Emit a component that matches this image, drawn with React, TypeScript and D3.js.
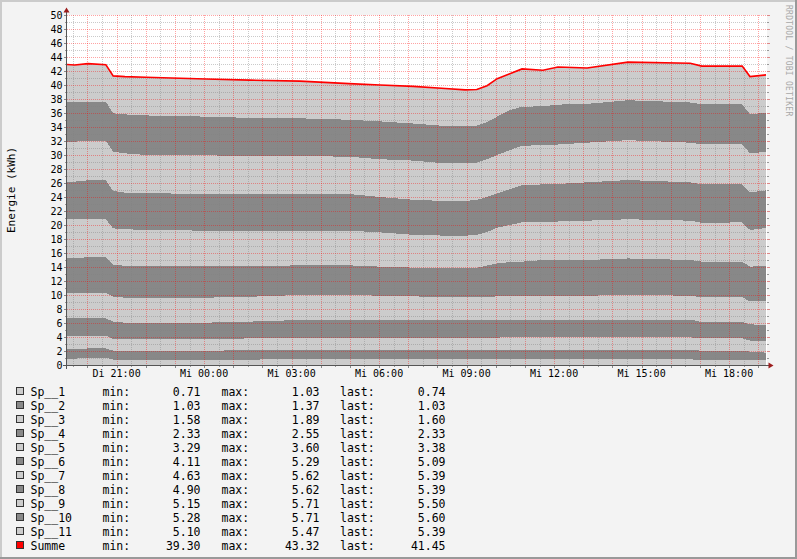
import * as d3 from 'd3'

// sample times (Di = Tuesday, Mi = Wednesday)
const timeLabels = [
  'Di 19:18', 'Di 19:34', 'Di 20:01', 'Di 20:38', 'Di 20:53', 'Di 21:17', 'Di 22:00', 'Mi 00:04',
  'Mi 01:34', 'Mi 03:17', 'Mi 04:58', 'Mi 06:02', 'Mi 07:10', 'Mi 08:16', 'Mi 08:57', 'Mi 09:21',
  'Mi 09:42', 'Mi 10:03', 'Mi 10:29', 'Mi 10:54', 'Mi 11:37', 'Mi 12:08', 'Mi 13:08', 'Mi 14:32',
  'Mi 16:40', 'Mi 17:04', 'Mi 18:27', 'Mi 18:43', 'Mi 19:16',
]

const sp1 = [0.90, 0.90, 1.03, 1.03, 0.78, 0.78, 0.78, 0.78, 0.78, 0.80, 0.80, 0.80, 0.81, 0.81, 0.81, 0.81, 0.81, 0.81, 0.81, 0.81, 0.81, 0.81, 0.81, 0.81, 0.81, 0.71, 0.71, 0.71, 0.74]
const sp2 = [1.37, 1.37, 1.33, 1.33, 1.27, 1.27, 1.27, 1.27, 1.32, 1.34, 1.34, 1.34, 1.33, 1.33, 1.33, 1.33, 1.33, 1.33, 1.33, 1.33, 1.33, 1.33, 1.33, 1.33, 1.33, 1.34, 1.34, 1.19, 1.03]
const sp3 = [1.89, 1.89, 1.83, 1.83, 1.66, 1.62, 1.62, 1.62, 1.70, 1.76, 1.76, 1.76, 1.76, 1.76, 1.76, 1.76, 1.76, 1.78, 1.81, 1.81, 1.81, 1.81, 1.81, 1.81, 1.81, 1.75, 1.75, 1.58, 1.60]
const sp4 = [2.51, 2.51, 2.48, 2.48, 2.48, 2.38, 2.38, 2.38, 2.40, 2.53, 2.53, 2.53, 2.53, 2.53, 2.53, 2.53, 2.53, 2.53, 2.55, 2.55, 2.55, 2.55, 2.55, 2.55, 2.55, 2.33, 2.33, 2.33, 2.33]
const sp5 = [3.60, 3.60, 3.60, 3.60, 3.57, 3.57, 3.57, 3.57, 3.55, 3.57, 3.57, 3.47, 3.37, 3.29, 3.29, 3.29, 3.29, 3.35, 3.40, 3.40, 3.40, 3.40, 3.40, 3.50, 3.40, 3.54, 3.54, 3.29, 3.38]
const sp6 = [5.02, 5.02, 5.11, 5.11, 4.53, 4.57, 4.57, 4.57, 4.35, 4.24, 4.24, 4.15, 4.11, 4.11, 4.11, 4.18, 4.48, 4.72, 4.80, 4.86, 5.10, 5.10, 5.10, 5.22, 5.10, 5.09, 5.09, 4.95, 5.09]
const sp7 = [5.52, 5.52, 5.43, 5.43, 5.23, 5.21, 5.10, 5.00, 5.09, 4.95, 4.95, 4.90, 4.69, 4.65, 4.63, 4.70, 4.80, 5.10, 5.30, 5.62, 5.48, 5.50, 5.62, 5.60, 5.62, 5.54, 5.62, 5.24, 5.39]
const sp8 = [5.38, 5.38, 5.57, 5.57, 5.34, 5.22, 5.26, 5.24, 5.24, 5.24, 5.24, 5.05, 5.00, 4.95, 4.97, 5.00, 5.00, 4.90, 5.10, 5.32, 5.32, 5.36, 5.48, 5.60, 5.48, 5.51, 5.43, 5.38, 5.39]
const sp9 = [5.71, 5.71, 5.67, 5.67, 5.62, 5.62, 5.45, 5.52, 5.43, 5.43, 5.32, 5.40, 5.60, 5.38, 5.38, 5.30, 5.40, 5.48, 5.60, 5.60, 5.63, 5.64, 5.66, 5.70, 5.66, 5.71, 5.71, 5.57, 5.50]
const sp10 = [5.62, 5.62, 5.55, 5.55, 5.47, 5.56, 5.65, 5.53, 5.44, 5.38, 5.29, 5.40, 5.30, 5.33, 5.28, 5.28, 5.28, 5.48, 5.70, 5.60, 5.52, 5.70, 5.54, 5.70, 5.74, 5.72, 5.72, 5.56, 5.60]
const sp11 = [5.41, 5.34, 5.45, 5.30, 5.35, 5.40, 5.45, 5.37, 5.40, 5.31, 5.16, 5.20, 5.30, 5.36, 5.21, 5.17, 5.22, 5.42, 5.20, 5.40, 5.15, 5.37, 5.13, 5.45, 5.60, 5.46, 5.46, 5.40, 5.39]

const series = [sp1, sp2, sp3, sp4, sp5, sp6, sp7, sp8, sp9, sp10, sp11]
const seriesNames = ['Sp__1', 'Sp__2', 'Sp__3', 'Sp__4', 'Sp__5', 'Sp__6', 'Sp__7', 'Sp__8', 'Sp__9', 'Sp__10', 'Sp__11']

// legend statistics as printed
const legendNames = [...seriesNames, 'Summe']
const legendMin = ['0.71', '1.03', '1.58', '2.33', '3.29', '4.11', '4.63', '4.90', '5.15', '5.28', '5.10', '39.30']
const legendMax = ['1.03', '1.37', '1.89', '2.55', '3.60', '5.29', '5.62', '5.62', '5.71', '5.71', '5.47', '43.32']
const legendLast = ['0.74', '1.03', '1.60', '2.33', '3.38', '5.09', '5.39', '5.39', '5.50', '5.60', '5.39', '41.45']

const dayNames = ['So', 'Mo', 'Di', 'Mi', 'Do', 'Fr', 'Sa']

const W = 797, H = 559
const X0 = 67, X1 = 767, Y0 = 365, Y1 = 15
const LIGHT = '#CCCCCC', DARK = '#888888'
const FONT = "'DejaVu Sans Mono', monospace"

function parseTime(s: string) {
  const [day, hm] = s.split(' ')
  const [h, m] = hm.split(':').map(Number)
  return new Date(2012, 9, day === 'Di' ? 16 : 17, h, m)
}

const start = new Date(2012, 9, 16, 19, 18)
const end = new Date(2012, 9, 17, 19, 18)

export default function App() {
  const x = d3.scaleTime([start, end], [X0, X1])
  const y = d3.scaleLinear([0, 50], [Y0, Y1])

  const keys = seriesNames
  const rows = timeLabels.map((t, i) => {
    const r: any = { time: parseTime(t) }
    keys.forEach((k, j) => { r[k] = series[j][i] })
    return r
  })
  const stacked = d3.stack<any>().keys(keys)(rows)

  const area = d3.area<any>()
    .x(d => x(d.data.time))
    .y0(d => y(d[0]))
    .y1(d => y(d[1]))
  const topLine = d3.line<any>()
    .x(d => x(d.data.time))
    .y(d => y(d[1]))

  const minorX = d3.timeMinute.every(30)!.range(start, end).filter(d => d.getMinutes() !== 0)
  const majorX = d3.timeHour.range(start, end)
  const labelX = d3.timeHour.every(3)!.range(start, end)
  const minorY = d3.range(1, 50, 2)
  const majorY = d3.range(0, 51, 2)

  const fmt = d3.timeFormat('%H:%M')
  const px = (t: Date) => Math.round(x(t)) + 0.5
  const py = (v: number) => Math.round(y(v)) + 0.5

  const minorCol = 'rgba(128,128,128,0.42)'
  const majorCol = 'rgba(255,0,0,0.36)'

  return (
    <div style={{ position: 'absolute', left: 0, top: 0 }}>
      <svg width={W} height={H} style={{ display: 'block', fontFamily: FONT }}>
        <rect x={0} y={0} width={W} height={H} fill="#F3F3F3" />
        <rect x={0} y={0} width={W} height={2} fill="#CBCBCB" />
        <rect x={0} y={0} width={2} height={H} fill="#CBCBCB" />
        <rect x={0} y={H - 2} width={W} height={2} fill="#999999" />
        <rect x={W - 2} y={0} width={2} height={H} fill="#999999" />

        <rect x={X0} y={Y1} width={X1 - X0} height={Y0 - Y1} fill="#FFFFFF" />

        {stacked.map((s, i) => (
          <path key={s.key} d={area(s) || ''} fill={i % 2 === 0 ? LIGHT : DARK} shapeRendering="crispEdges" />
        ))}

        {/* minor grid */}
        {minorY.map(v => (
          <g key={'my' + v}>
            <line x1={X0} x2={X1} y1={py(v)} y2={py(v)} stroke={minorCol} strokeDasharray="1,1" />
            <line x1={X0 - 2} x2={X0} y1={py(v)} y2={py(v)} stroke="#999" />
            <line x1={X1} x2={X1 + 2} y1={py(v)} y2={py(v)} stroke="#999" />
          </g>
        ))}
        {minorX.map(t => (
          <g key={'mx' + +t}>
            <line x1={px(t)} x2={px(t)} y1={Y1} y2={Y0} stroke={minorCol} strokeDasharray="1,1" />
            <line x1={px(t)} x2={px(t)} y1={Y0} y2={Y0 + 2} stroke="#999" />
          </g>
        ))}
        {/* major grid */}
        {majorY.map(v => (
          <g key={'My' + v}>
            <line x1={X0} x2={X1} y1={py(v)} y2={py(v)} stroke={majorCol} strokeDasharray="1,1" />
            <line x1={X0 - 3} x2={X0} y1={py(v)} y2={py(v)} stroke="#888" />
            <line x1={X1} x2={X1 + 3} y1={py(v)} y2={py(v)} stroke="#d88" />
          </g>
        ))}
        {majorX.map(t => (
          <g key={'Mx' + +t}>
            <line x1={px(t)} x2={px(t)} y1={Y1} y2={Y0} stroke={majorCol} strokeDasharray="1,1" />
            <line x1={px(t)} x2={px(t)} y1={Y0} y2={Y0 + 3} stroke="#888" />
          </g>
        ))}

        <path d={topLine(stacked[stacked.length - 1]) || ''} fill="none" stroke="#FF0000" strokeWidth={1.6} />

        {/* axes */}
        <line x1={X0 - 4} x2={X1 + 3} y1={Y0 + 0.5} y2={Y0 + 0.5} stroke="#555" />
        <line x1={X0 - 0.5} x2={X0 - 0.5} y1={Y0 + 4} y2={Y1 - 3} stroke="#555" />
        <polygon points={`${X1 + 1.5},${Y0 - 2.5} ${X1 + 1.5},${Y0 + 3.5} ${X1 + 6.5},${Y0 + 0.5}`} fill="#9C1C1C" />
        <polygon points={`${X0 - 3.5},${Y1 - 2.5} ${X0 + 2.5},${Y1 - 2.5} ${X0 - 0.5},${Y1 - 7.5}`} fill="#9C1C1C" />

        {/* tick labels */}
        {majorY.map(v => (
          <text key={'ly' + v} x={62.5} y={y(v) + 3.6} fontSize={10} textAnchor="end" fill="#000">{v}</text>
        ))}
        {labelX.map(t => (
          <text key={'lx' + +t} x={x(t)} y={377} fontSize={10} textAnchor="middle" fill="#000">
            {`${dayNames[t.getDay()]} ${fmt(t)}`}
          </text>
        ))}

        <text transform="translate(14.5,190) rotate(-90)" fontSize={11} textAnchor="middle" fill="#000">Energie (kWh)</text>
        <text transform="translate(786,5) rotate(90)" fontSize={8} letterSpacing={0.25} fill="#A8A8A8">RRDTOOL / TOBI OETIKER</text>

        {/* legend */}
        {legendNames.map((name, i) => {
          const by = 395.5 + i * 14
          const fill = i === legendNames.length - 1 ? '#FF0000' : i % 2 === 0 ? LIGHT : DARK
          return (
            <g key={name} fontSize={11.5} fill="#000">
              <rect x={16} y={by - 8} width={7} height={7} fill={fill} stroke="#333" strokeWidth={1} shapeRendering="crispEdges" />
              <text x={30.5} y={by}>{name}</text>
              <text x={102.5} y={by}>min:</text>
              <text x={200.5} y={by} textAnchor="end">{legendMin[i]}</text>
              <text x={221.5} y={by}>max:</text>
              <text x={319.5} y={by} textAnchor="end">{legendMax[i]}</text>
              <text x={340} y={by}>last:</text>
              <text x={445.5} y={by} textAnchor="end">{legendLast[i]}</text>
            </g>
          )
        })}
      </svg>
    </div>
  )
}
